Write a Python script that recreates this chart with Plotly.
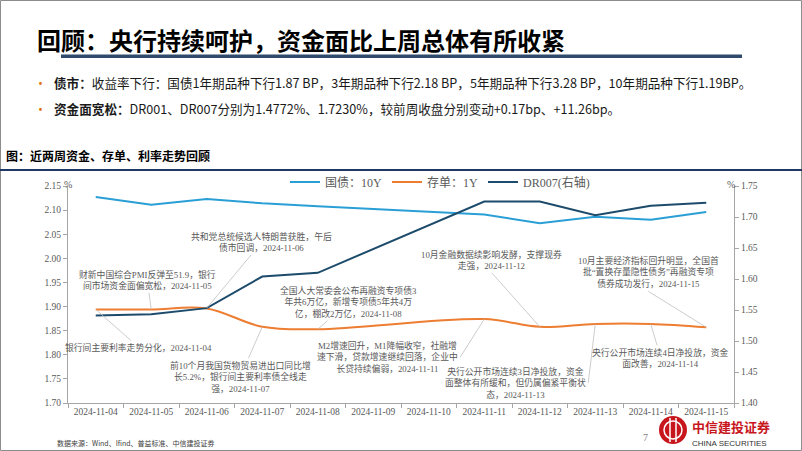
import plotly.graph_objects as go

# ---------------- data ----------------
dates = ['2024-11-04', '2024-11-05', '2024-11-06', '2024-11-07', '2024-11-08', '2024-11-09',
         '2024-11-10', '2024-11-11', '2024-11-12', '2024-11-13', '2024-11-14', '2024-11-15']
gz10 = [2.127, 2.111, 2.123, 2.114, 2.108, None, None, 2.091, 2.073, 2.086, 2.080, 2.096]
cd1y = [1.894, 1.894, 1.896, 1.858, 1.853, None, None, 1.874, 1.858, 1.864, 1.864, 1.857]
dr007 = [1.541, 1.543, 1.553, 1.604, 1.610, None, None, 1.725, 1.725, 1.703, 1.718, 1.723]

series_names = ['国债：10Y', '存单：1Y', 'DR007(右轴)']
left_ticks = [1.70, 1.75, 1.80, 1.85, 1.90, 1.95, 2.00, 2.05, 2.10, 2.15]
right_ticks = [1.40, 1.45, 1.50, 1.55, 1.60, 1.65, 1.70, 1.75]

event_dates = ['2024-11-04', '2024-11-05', '2024-11-06', '2024-11-07', '2024-11-08',
               '2024-11-11', '2024-11-12', '2024-11-13', '2024-11-14', '2024-11-15']
event_series = ['cd1y', 'cd1y', 'dr007', 'cd1y', 'cd1y', 'cd1y', 'cd1y', 'cd1y', 'cd1y', 'cd1y']
event_texts = [
    '银行间主要利率走势分化，2024-11-04',
    '财新中国综合PMI反弹至51.9，银行<br>间市场资金面偏宽松，2024-11-05',
    '共和党总统候选人特朗普获胜，午后<br>债市回调，2024-11-06',
    '前10个月我国货物贸易进出口同比增<br>长5.2%，银行间主要利率债全线走<br>强，2024-11-07',
    '全国人大常委会公布再融资专项债3<br>年共6万亿，新增专项债5年共4万<br>亿，棚改2万亿，2024-11-08',
    'M2增速回升，M1降幅收窄，社融增<br>速下滑，贷款增速继续回落，企业中<br>长贷持续偏弱，2024-11-11',
    '10月金融数据续影响发酵，支撑现券<br>走强，2024-11-12',
    '央行公开市场连续3日净投放，资金<br>面整体有所缓和，但仍属偏紧平衡状<br>态，2024-11-13',
    '央行公开市场连续4日净投放，资金<br>面改善，2024-11-14',
    '10月主要经济指标回升明显，全国首<br>批“置换存量隐性债务”再融资专项<br>债券成功发行，2024-11-15',
]

title_text = '回顾：央行持续呵护，资金面比上周总体有所收紧'
bullet1 = '<b>债市：</b>收益率下行：国债1年期品种下行1.87 BP，3年期品种下行2.18 BP，5年期品种下行3.28 BP，10年期品种下行1.19BP。'
bullet2 = '<b>资金面宽松：</b>DR001、DR007分别为1.4772%、1.7230%，较前周收盘分别变动+0.17bp、+11.26bp。'
chart_caption = '<b>图：近两周资金、存单、利率走势回顾</b>'
source_text = '数据来源：Wind、Ifind、普益标准、中信建投证券'

# ---------------- styling ----------------
W, H = 802, 451
PL, PR, PT, PB = 68, 734, 186, 403
SERIF = 'Liberation Serif, Noto Sans CJK SC'
CJK = 'Noto Sans CJK SC, Liberation Sans'
GREY = '#595959'
AX = '#A6A6A6'


def px(x):
    return (x - PL) / (PR - PL)


def py(y):
    return (PB - y) / (PB - PT)


fig = go.Figure()
fig.add_trace(go.Scatter(x=dates, y=gz10, name=series_names[0], mode='lines',
                         line=dict(color='#2A9FD6', width=2), connectgaps=True))
fig.add_trace(go.Scatter(x=dates, y=cd1y, name=series_names[1], mode='lines',
                         line=dict(color='#ED7D31', width=2, shape='spline'), connectgaps=True))
fig.add_trace(go.Scatter(x=dates, y=dr007, name=series_names[2], mode='lines', yaxis='y2',
                         line=dict(color='#1D4B6B', width=2), connectgaps=True))

series_map = {'gz10': gz10, 'cd1y': cd1y, 'dr007': dr007}
# (ax, ay, xanchor, yanchor) per event: text placement relative to the point
placement = [
    (43, 38, 'auto', 'auto'),
    (-4, -29, 'auto', 'auto'),
    (55, -66, 'auto', 'auto'),
    (-22, 50, 'auto', 'auto'),
    (31, -27, 'auto', 'auto'),
    (-24, 38, 'right', 'auto'),
    (-48, -54, 'auto', 'bottom'),
    (-7, 59, 'right', 'auto'),
    (10, 34, 'auto', 'auto'),
    (-58, -36, 'auto', 'bottom'),
]

annotations = []
for d, s, t, (ax, ay, xa, ya) in zip(event_dates, event_series, event_texts, placement):
    val = series_map[s][dates.index(d)]
    annotations.append(dict(
        x=d, y=val, xref='x', yref='y2' if s == 'dr007' else 'y',
        text=t, showarrow=True, arrowhead=0, arrowwidth=0.8, arrowcolor='#BFBFBF',
        ax=ax, ay=ay, axref='pixel', ayref='pixel', xanchor=xa, yanchor=ya,
        standoff=0, startstandoff=0,
        font=dict(family=SERIF, size=8.8, color=GREY), align='center'))

# "%" unit labels
annotations.append(dict(x=0, y=py(185), xref='paper', yref='paper', text='%', showarrow=False,
                        xanchor='center', yanchor='middle', font=dict(family=SERIF, size=10, color=GREY)))
annotations.append(dict(x=px(731), y=py(185), xref='paper', yref='paper', text='%', showarrow=False,
                        xanchor='center', yanchor='middle', font=dict(family=SERIF, size=10, color=GREY)))

# page header / text
annotations += [
    dict(x=px(35), y=py(39), xref='paper', yref='paper', text='<b>' + title_text + '</b>', showarrow=False,
         xanchor='left', yanchor='middle', font=dict(family=CJK, size=24, color='#000000')),
    dict(x=px(40), y=py(83), xref='paper', yref='paper', text='•', showarrow=False,
         xanchor='center', yanchor='middle', font=dict(family=CJK, size=13, color='#E46C0A')),
    dict(x=px(52), y=py(83), xref='paper', yref='paper', text=bullet1, showarrow=False,
         xanchor='left', yanchor='middle', font=dict(family=CJK, size=12.6, color='#1A1A1A')),
    dict(x=px(40), y=py(108), xref='paper', yref='paper', text='•', showarrow=False,
         xanchor='center', yanchor='middle', font=dict(family=CJK, size=13, color='#E46C0A')),
    dict(x=px(52), y=py(108), xref='paper', yref='paper', text=bullet2, showarrow=False,
         xanchor='left', yanchor='middle', font=dict(family=CJK, size=12.6, color='#1A1A1A')),
    dict(x=px(4), y=py(155), xref='paper', yref='paper', text=chart_caption, showarrow=False,
         xanchor='left', yanchor='middle', font=dict(family=CJK, size=12, color='#000000')),
    dict(x=px(55), y=py(443), xref='paper', yref='paper', text=source_text, showarrow=False,
         xanchor='left', yanchor='middle', font=dict(family=CJK, size=7, color='#404040')),
    dict(x=px(645), y=py(437), xref='paper', yref='paper', text='7', showarrow=False,
         xanchor='center', yanchor='middle', font=dict(family=SERIF, size=10, color='#7F7F7F')),
    dict(x=px(690), y=py(426), xref='paper', yref='paper', text='<b>中信建投证券</b>', showarrow=False,
         xanchor='left', yanchor='middle', font=dict(family=CJK, size=13, color='#C8161D')),
    dict(x=px(690), y=py(443), xref='paper', yref='paper', text='CHINA SECURITIES', showarrow=False,
         xanchor='left', yanchor='middle', font=dict(family='Liberation Sans', size=8, color='#333333')),
]

shapes = [
    # outer frame
    dict(type='rect', xref='paper', yref='paper', x0=px(0.5), x1=px(801.5), y0=py(0.5), y1=py(450.5),
         line=dict(color='#8C8C8C', width=1), fillcolor='rgba(0,0,0,0)', layer='below'),
    # title underline bar
    dict(type='rect', xref='paper', yref='paper', x0=px(61), x1=px(742), y0=py(58), y1=py(54.5),
         line=dict(width=0), fillcolor='#2F4A6D'),
    # chart caption rule
    dict(type='line', xref='paper', yref='paper', x0=px(0), x1=px(802), y0=py(170), y1=py(170),
         line=dict(color='#1F3864', width=2)),
    # logo
    dict(type='circle', xref='paper', yref='paper', x0=px(659), x1=px(687), y0=py(416), y1=py(444),
         line=dict(width=0), fillcolor='#C8161D'),
    dict(type='circle', xref='paper', yref='paper', x0=px(664), x1=px(682), y0=py(421), y1=py(439),
         line=dict(color='white', width=1.5), fillcolor='rgba(0,0,0,0)'),
    dict(type='line', xref='paper', yref='paper', x0=px(670), x1=px(670), y0=py(418), y1=py(442),
         line=dict(color='white', width=1.5)),
    dict(type='line', xref='paper', yref='paper', x0=px(676), x1=px(676), y0=py(418), y1=py(442),
         line=dict(color='white', width=1.5)),
]

fig.update_layout(
    width=W, height=H,
    margin=dict(l=PL, r=W - PR, t=PT, b=H - PB, pad=0),
    paper_bgcolor='white', plot_bgcolor='white',
    showlegend=True,
    legend=dict(orientation='h', x=px(440), xanchor='center', y=py(182), yanchor='middle',
                font=dict(family=SERIF, size=12, color=GREY), bgcolor='rgba(0,0,0,0)',
                itemwidth=30, tracegroupgap=0),
    xaxis=dict(type='category', categoryorder='array', categoryarray=dates, range=[-0.5, len(dates) - 0.5],
               showline=True, linecolor=AX, linewidth=1, ticks='outside', tickson='boundaries',
               ticklen=4, tickcolor=AX, showgrid=False, zeroline=False,
               tickfont=dict(family=SERIF, size=9.5, color=GREY)),
    yaxis=dict(range=[left_ticks[0], left_ticks[-1]], tickvals=left_ticks, tickformat='.2f',
               showline=True, linecolor=AX, linewidth=1, ticks='outside', ticklen=4, tickcolor=AX,
               showgrid=False, zeroline=False, tickfont=dict(family=SERIF, size=9.5, color=GREY)),
    yaxis2=dict(range=[right_ticks[0], right_ticks[-1]], tickvals=right_ticks, tickformat='.2f',
                overlaying='y', side='right', showline=True, linecolor=AX, linewidth=1,
                ticks='outside', ticklen=4, tickcolor=AX, showgrid=False, zeroline=False,
                tickfont=dict(family=SERIF, size=9.5, color=GREY)),
    annotations=annotations,
    shapes=shapes,
)

fig.write_html('out.html', config={'displayModeBar': False},
               post_script="document.body.style.margin='0';document.body.style.overflow='hidden';")
